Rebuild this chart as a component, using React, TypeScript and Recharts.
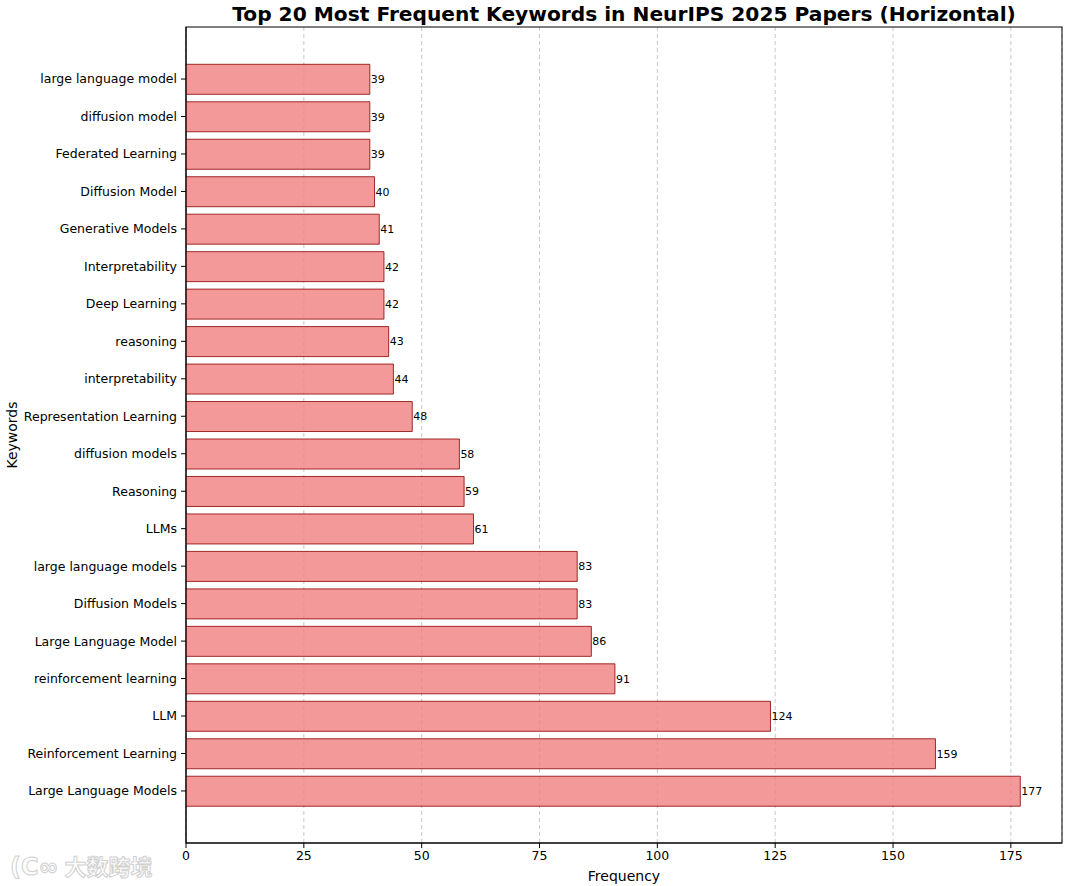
import React from 'react';
import { BarChart, Bar, XAxis, YAxis, CartesianGrid, LabelList, usePlotArea } from 'recharts';

const keywords = [
  'large language model', 'diffusion model', 'Federated Learning', 'Diffusion Model',
  'Generative Models', 'Interpretability', 'Deep Learning', 'reasoning',
  'interpretability', 'Representation Learning', 'diffusion models', 'Reasoning',
  'LLMs', 'large language models', 'Diffusion Models', 'Large Language Model',
  'reinforcement learning', 'LLM', 'Reinforcement Learning', 'Large Language Models',
];
const frequencies = [39, 39, 39, 40, 41, 42, 42, 43, 44, 48, 58, 59, 61, 83, 83, 86, 91, 124, 159, 177];
const xTicks = [0, 25, 50, 75, 100, 125, 150, 175];
const xMax = 185.85;

const data = keywords.map((k, i) => ({ keyword: k, count: frequencies[i] }));

const FONT = '"DejaVu Sans", sans-serif';

function Frame() {
  const area = usePlotArea();
  if (!area) return null;
  return <rect x={area.x} y={area.y} width={area.width} height={area.height} fill="none" stroke="#000" strokeWidth={1} />;
}

export default function App() {
  return (
    <div style={{ position: 'absolute', left: 0, top: 0, width: 1071, height: 886, background: '#fff', fontFamily: FONT }}>
      <BarChart
        width={1071}
        height={886}
        data={data}
        layout="vertical"
        margin={{ top: 27, right: 9, bottom: 0, left: 0 }}
        barCategoryGap={0}
      >
        <CartesianGrid horizontal={false} vertical stroke="#b0b0b0" strokeOpacity={0.7} strokeDasharray="4 3" />
        <XAxis
          type="number"
          dataKey="count"
          domain={[0, xMax]}
          ticks={xTicks}
          height={43}
          tickSize={5}
          tickMargin={3}
          tick={{ fill: '#000', fontSize: 12.5, fontFamily: FONT }}
          stroke="#000"
          allowDataOverflow
          label={{ value: 'Frequency', position: 'insideBottom', offset: 5, fill: '#000', fontSize: 14, fontFamily: FONT }}
        />
        <YAxis
          type="category"
          dataKey="keyword"
          width={186}
          tickSize={5}
          tickMargin={4}
          padding={{ top: 33.3, bottom: 33.3 }}
          tick={{ fill: '#000', fontSize: 12.5, fontFamily: FONT }}
          stroke="#000"
          interval={0}
        />
        <Bar
          dataKey="count"
          barSize={30}
          fill="#F08080"
          fillOpacity={0.8}
          stroke="#8B0000"
          strokeOpacity={0.8}
          strokeWidth={1}
          isAnimationActive={false}
        >
          <LabelList dataKey="count" position="right" offset={1} fill="#000" fontSize={11} fontFamily={FONT} />
        </Bar>
        <Frame />
      </BarChart>
      <div
        style={{
          position: 'absolute', left: 186, width: 876, top: 2, textAlign: 'center',
          fontWeight: 'bold', fontSize: 20.2, color: '#000', whiteSpace: 'nowrap', lineHeight: '24px',
        }}
      >
        Top 20 Most Frequent Keywords in NeurIPS 2025 Papers (Horizontal)
      </div>
      <div
        style={{
          position: 'absolute', left: 12, top: 435, transform: 'translate(-50%, -50%) rotate(-90deg)',
          fontSize: 14, color: '#000', whiteSpace: 'nowrap',
        }}
      >
        Keywords
      </div>
      <div
        style={{
          position: 'absolute', left: 10, top: 849, fontSize: 22, fontWeight: 'bold',
          color: 'rgba(255,255,255,0.85)', WebkitTextStroke: '1px #d0d0d0', whiteSpace: 'nowrap',
          fontFamily: '"Noto Sans CJK SC", sans-serif',
        }}
      >
        <span style={{ fontFamily: FONT, fontSize: 24, marginRight: 6 }}>(C∞</span>大数跨境
      </div>
    </div>
  );
}
